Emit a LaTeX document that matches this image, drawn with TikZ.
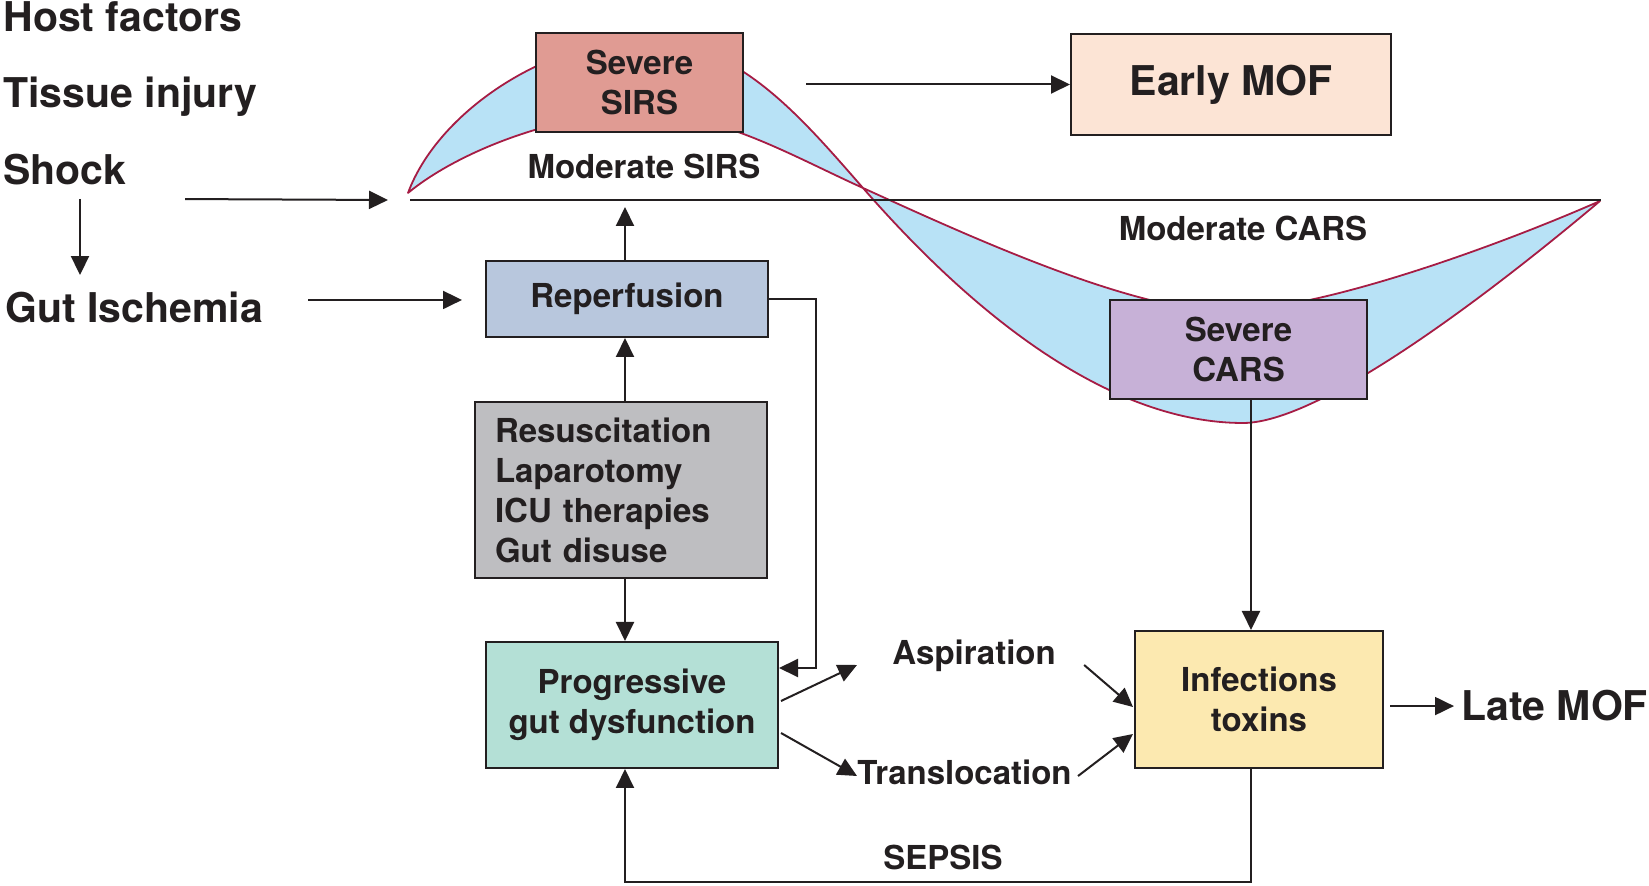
\documentclass[tikz,border=0pt]{standalone}
\usepackage{fontspec}
\setsansfont{TeX Gyre Heros}
\usetikzlibrary{arrows.meta}
\usetikzlibrary{calc}
\usetikzlibrary{positioning}
\definecolor{ink}{RGB}{35,31,32}
\definecolor{sirsred}{RGB}{224,155,147}
\definecolor{mofpeach}{RGB}{252,228,213}
\definecolor{reperfblue}{RGB}{184,199,221}
\definecolor{resusgray}{RGB}{190,190,193}
\definecolor{gutteal}{RGB}{180,224,214}
\definecolor{infyellow}{RGB}{252,233,176}
\definecolor{carslilac}{RGB}{199,177,215}
\definecolor{bandblue}{RGB}{184,226,246}
\definecolor{wavered}{RGB}{166,28,68}

\tikzset{
  box/.style={draw=ink, line width=1pt, inner sep=0pt, align=center, text=ink,
    font=\sffamily\bfseries\fontsize{16.5}{20}\selectfont},
  biglbl/.style={inner sep=0pt, anchor=base west, text=ink,
    font=\sffamily\bfseries\fontsize{20.5}{24}\selectfont},
  lbl/.style={inner sep=0pt, text=ink,
    font=\sffamily\bfseries\fontsize{16.5}{20}\selectfont},
  arr/.style={draw=ink, line width=1pt, -{Triangle[length=9.5pt,width=9pt]}},
}

\begin{document}
\begin{tikzpicture}[x=0.5pt, y=-0.5pt]
\useasboundingbox (0,0) rectangle (1649,886);

%---------------------------------------
% SIRS / CARS wave
%---------------------------------------
\filldraw[fill=bandblue, draw=wavered, line width=0.9pt, line join=round]
  (408,193) .. controls (438,112) and (545,42) .. (640,40)
  .. controls (735,38) and (800,116) .. (863,188)
  .. controls (1000,345) and (1130,423) .. (1243,423)
  .. controls (1330,423) and (1530,260) .. (1600,201)
  .. controls (1500,245) and (1320,311) .. (1225,311)
  .. controls (1130,311) and (960,232) .. (863,188)
  .. controls (790,155) and (720,113) .. (640,113)
  .. controls (560,113) and (460,150) .. (408,193) -- cycle;

% baseline
\coordinate (base0) at (410,200);
\coordinate (base1) at (1601,200);
\draw[ink, line width=1pt] (base0) -- (base1);
\coordinate (col) at (625,207);

%---------------------------------------
% Boxes
%---------------------------------------
\node[box, fill=sirsred, minimum width=103.5pt, minimum height=49.5pt] (sirs) at (639.5,82.5) {Severe\\SIRS};
\node[box, fill=mofpeach, minimum width=160pt, minimum height=50.5pt,
  font=\sffamily\bfseries\fontsize{20.5}{24}\selectfont] (early) at (1231,84.5) {Early MOF};
\node[box, fill=carslilac, minimum width=128.5pt, minimum height=49.5pt] (cars) at (1238.5,349.5) {Severe\\CARS};
\node[box, fill=reperfblue, minimum width=141pt, minimum height=38pt] (reperf) at (627,299) {Reperfusion};
\node[box, fill=resusgray, text width=126pt, inner xsep=10pt, minimum height=88pt, align=left] (resus) at (621,490)
  {Resuscitation\\Laparotomy\\ICU therapies\\Gut disuse};
\node[box, fill=gutteal, minimum width=146pt, minimum height=63pt] (prog) at (632,705) {Progressive\\gut dysfunction};
\node[box, fill=infyellow, minimum width=124pt, minimum height=68.5pt] (infect) at (1259,699.5) {Infections\\toxins};

%---------------------------------------
% Labels
%---------------------------------------
\node[biglbl] (host) at (3,32) {Host factors};
\node[biglbl] (tissue) at (3,108) {Tissue injury};
\node[biglbl] (shock) at (3,185) {Shock};
\node[biglbl] (gut) at (5,323) {Gut Ischemia};
\node[biglbl] (late) at (1461,721) {Late MOF};

\node[lbl] (modsirs) at (644,166) {Moderate SIRS};
\node[lbl] (modcars) at (1243,228) {Moderate CARS};
\node[lbl, anchor=west] (asp) at (892,656) {Aspiration};
\node[lbl, anchor=west] (trans) at (857,772) {Translocation};
\node[lbl] (sepsis) at (943,857) {SEPSIS};

%---------------------------------------
% Arrows
%---------------------------------------
\draw[arr] ($(early.west)+(-264,0)$) -- (early.west);
\draw[arr] ($(shock.east)+(58,29)$) -- ($(base0)+(-22,0)$);
\draw[arr] ($(shock.south west)+(77,13)$) coordinate (s1) -- ($(s1 |- gut.north)+(0,-17)$);
\draw[arr] ($(gut.east)+(45,-8)$) coordinate (g1) -- ($(g1 -| reperf.west)+(-23,0)$);

\draw[arr] (reperf.north -| col) -- (col);
\draw[arr] (resus.north -| col) -- (reperf.south -| col);
\draw[arr] (resus.south -| col) -- (prog.north -| col);
\draw[arr] (reperf.east) -- ++(47,0) |- ($(prog.east)+(0,-37)$);

\draw[arr] ($(prog.east)+(2,-4)$) -- ($(asp.west)+(-35,9)$);
\draw[arr] ($(prog.east)+(2,28)$) -- ($(trans.west)+(0,4)$);
\draw[arr] ($(asp.east)+(28,9)$) -- ($(infect.west)+(-1,7.5)$);
\draw[arr] ($(trans.east)+(6,4)$) -- ($(infect.west)+(-1,34.5)$);

\draw[arr] ($(cars.south)+(12.5,0)$) coordinate (c1) -- (c1 |- infect.north);
\draw[arr] (infect.south -| c1) -- ++(0,113) -| (prog.south -| col);
\draw[arr] ($(late.west)+(-71,0)$) -- ($(late.west)+(-7,0)$);

\end{tikzpicture}
\end{document}
